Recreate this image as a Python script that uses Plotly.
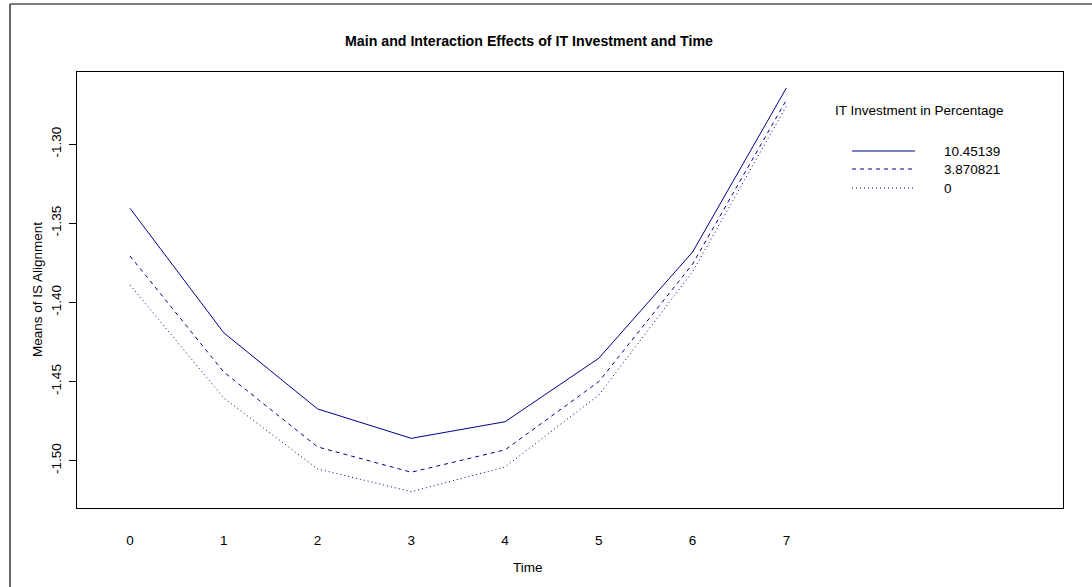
import plotly.graph_objects as go

# ---- data ----
time_points = [0, 1, 2, 3, 4, 5, 6, 7]
series_names = ["10.45139", "3.870821", "0"]
it_high = [-1.3406, -1.4192, -1.4673, -1.4859, -1.4754, -1.4353, -1.3682, -1.2646]
it_mid = [-1.3707, -1.4440, -1.4913, -1.5073, -1.4932, -1.4501, -1.3758, -1.2722]
it_zero = [-1.3890, -1.4604, -1.5052, -1.5196, -1.5040, -1.4585, -1.3806, -1.2760]
y_ticks = [-1.30, -1.35, -1.40, -1.45, -1.50]
y_tick_labels = ["-1.30", "-1.35", "-1.40", "-1.45", "-1.50"]

series_values = [it_high, it_mid, it_zero]
dashes = ["solid", "4px,4px", "1px,3px"]
line_color = "#00008B"
FONT = "Liberation Sans, Arial, sans-serif"

fig = go.Figure()
for name, vals, d in zip(series_names, series_values, dashes):
    fig.add_trace(go.Scatter(
        x=time_points, y=vals, mode="lines", name=name,
        line=dict(color=line_color, width=1, dash=d),
        showlegend=False, hoverinfo="x+y+name",
    ))

# plot region in pixels: left 77, right 1063, top 72, bottom 508
L, R, T, B = 77, 1063, 72, 508
W, H = R - L, B - T
def px(x):
    return (x - L) / W
def py(y):
    return (B - y) / H

annotations = [
    dict(text="<b>Main and Interaction Effects of IT Investment and Time</b>",
         x=px(528.5), y=py(41), xref="paper", yref="paper", showarrow=False,
         xanchor="center", yanchor="middle", font=dict(size=14.2, color="black", family=FONT)),
    dict(text="Time", x=px(528), y=py(567), xref="paper", yref="paper", showarrow=False,
         xanchor="center", yanchor="middle", font=dict(size=13.5, color="black", family=FONT)),
    dict(text="Means of IS Alignment", x=px(37), y=0.5, xref="paper", yref="paper",
         showarrow=False, textangle=-90, xanchor="center", yanchor="middle",
         font=dict(size=13.5, color="black", family=FONT)),
    dict(text="IT Investment in Percentage", x=px(833), y=py(110), xref="paper", yref="paper",
         showarrow=False, xanchor="left", yanchor="middle",
         font=dict(size=13.5, color="black", family=FONT)),
]

shapes = []
legend_ys = [151, 169, 188]
for name, d, ly in zip(series_names, dashes, legend_ys):
    shapes.append(dict(type="line", xref="paper", yref="paper",
                       x0=px(852), x1=px(915), y0=py(ly), y1=py(ly),
                       line=dict(color=line_color, width=1, dash=d)))
    annotations.append(dict(text=name, x=px(942), y=py(ly), xref="paper", yref="paper",
                            showarrow=False, xanchor="left", yanchor="middle",
                            font=dict(size=13.5, color="black", family=FONT)))

# outer frame (left and top edges visible)
shapes.append(dict(type="line", xref="paper", yref="paper",
                   x0=px(10), x1=px(10), y0=py(4), y1=py(600),
                   line=dict(color="#333333", width=1.5)))
shapes.append(dict(type="line", xref="paper", yref="paper",
                   x0=px(10), x1=px(1100), y0=py(4), y1=py(4),
                   line=dict(color="#555555", width=1.5)))

fig.update_layout(
    width=1092, height=587,
    margin=dict(l=L, r=1092 - R, t=T, b=587 - B),
    paper_bgcolor="white", plot_bgcolor="white",
    font=dict(family=FONT, size=13, color="black"),
    annotations=annotations, shapes=shapes,
    showlegend=False,
)
fig.update_xaxes(
    range=[-0.565, 9.95], tickmode="array", tickvals=time_points,
    ticktext=[str(t) for t in time_points], ticks="", showgrid=False, zeroline=False,
    showline=True, mirror=True, linecolor="black", linewidth=1,
    tickfont=dict(size=13.5, family=FONT, color="black"), ticklabelstandoff=20,
)
fig.update_yaxes(
    range=[-1.5299, -1.2545], tickmode="array", tickvals=y_ticks, ticktext=y_tick_labels,
    ticks="outside", ticklen=7, tickcolor="black", tickangle=-90,
    showgrid=False, zeroline=False, showline=True, mirror=True, linecolor="black",
    linewidth=1, tickfont=dict(size=13.5, family=FONT, color="black"), ticklabelstandoff=3,
)

fig.write_html("out.html")
